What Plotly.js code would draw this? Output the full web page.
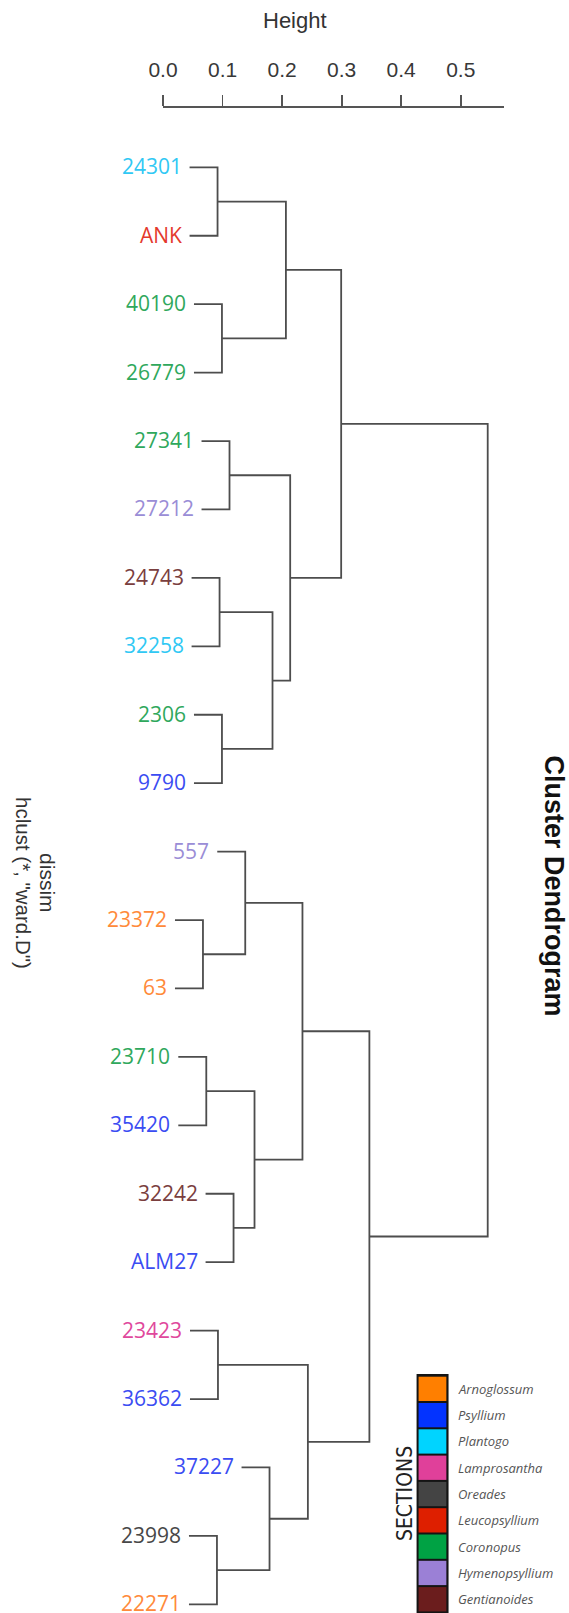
<!DOCTYPE html>
<html>
<head>
<meta charset="utf-8">
<script src="https://cdn.plot.ly/plotly-3.0.1.min.js"></script>
<style>html,body{margin:0;padding:0;background:#fff;}#chart{width:569px;height:1613px;}</style>
</head>
<body>
<div id="chart"></div>
<script>
// ---- Data ----
const leaves = ['24301','ANK','40190','26779','27341','27212','24743','32258','2306','9790',
                '557','23372','63','23710','35420','32242','ALM27','23423','36362','37227','23998','22271'];
const leafSection = ['Plantogo','Leucopsyllium','Coronopus','Coronopus','Coronopus','Hymenopsyllium',
                     'Gentianoides','Plantogo','Coronopus','Psyllium','Hymenopsyllium','Arnoglossum',
                     'Arnoglossum','Coronopus','Psyllium','Gentianoides','Psyllium','Lamprosantha',
                     'Psyllium','Psyllium','Oreades','Arnoglossum'];
// hclust-style merge table (negative = leaf number, positive = earlier merge)
const mergeLeft   = [-12,-14,-21,-1,-18,-7,-3,-9,-5,-16,-11, 2,-20, 6, 4, 9,11, 5,15,17,19];
const mergeRight  = [-13,-15,-22,-2,-19,-8,-4,-10,-6,-17, 1,10,  3, 8, 7,14,12,13,16,18,20];
const mergeHeight = [0.0671,0.0727,0.0906,0.0916,0.0923,0.0950,0.0990,0.0990,0.1117,0.1185,
                     0.1381,0.1537,0.1789,0.1839,0.2064,0.2136,0.2342,0.2433,0.2992,0.3466,0.5453];
const hang = 0.047;
const tickValues = [0, 0.1, 0.2, 0.3, 0.4, 0.5];
const tickLabels = ['0.0','0.1','0.2','0.3','0.4','0.5'];
const sectionNames = ['Arnoglossum','Psyllium','Plantogo','Lamprosantha','Oreades','Leucopsyllium',
                      'Coronopus','Hymenopsyllium','Gentianoides'];

// ---- Styles ----
const swatchColor = {Arnoglossum:'#ff7f00', Psyllium:'#0333ff', Plantogo:'#00d4ff', Lamprosantha:'#e0409a',
  Oreades:'#444444', Leucopsyllium:'#de1f00', Coronopus:'#00a244', Hymenopsyllium:'#9b80d6', Gentianoides:'#6b1d1d'};
const labelColor = {Arnoglossum:'#ff8a3a', Psyllium:'#3a4cf2', Plantogo:'#30c8f4', Lamprosantha:'#e0489c',
  Oreades:'#474747', Leucopsyllium:'#e4392c', Coronopus:'#2fa85c', Hymenopsyllium:'#9a8dd6', Gentianoides:'#7a3e3e'};

const W = 569, H = 1613;
const M = {l: 162.7, r: 65, t: 108, b: 0};
const PW = W - M.l - M.r, PH = H - M.t - M.b;
const px2x = px => (px - M.l) / PW;
const py2y = py => 1 - (py - M.t) / PH;

// ---- Build dendrogram segments ----
const mergeY = [];
const leafX = new Array(leaves.length);
const segX = [], segY = [];
for (let k = 0; k < mergeHeight.length; k++) {
  const h = mergeHeight[k];
  const info = c => {
    if (c < 0) { const i = -c - 1; leafX[i] = h - hang; return {x: h - hang, y: i}; }
    return {x: mergeHeight[c - 1], y: mergeY[c - 1]};
  };
  const L = info(mergeLeft[k]), R = info(mergeRight[k]);
  mergeY[k] = (L.y + R.y) / 2;
  segX.push(L.x, h, h, R.x, null);
  segY.push(L.y, L.y, R.y, R.y, null);
}

const traces = [{
  type: 'scatter', mode: 'lines', x: segX, y: segY,
  line: {color: '#4d4d4d', width: 1.8}, hoverinfo: 'skip', showlegend: false, cliponaxis: false
}];

const annotations = leaves.map((name, i) => ({
  x: leafX[i], y: i, xref: 'x', yref: 'y', text: name, showarrow: false,
  xanchor: 'right', yanchor: 'middle', xshift: -6, yshift: 1,
  font: {family: 'Open Sans, sans-serif', size: 21, color: labelColor[leafSection[i]]}
}));

const sansFont = 'Liberation Sans, Arial, sans-serif';
annotations.push(
  {x: px2x(295), y: py2y(20), xref: 'paper', yref: 'paper', text: 'Height', showarrow: false,
   xanchor: 'center', yanchor: 'middle', font: {family: sansFont, size: 22, color: '#333'}},
  {x: px2x(47.5), y: py2y(851), xref: 'paper', yref: 'paper', text: 'dissim', showarrow: false, textangle: 90,
   xanchor: 'center', yanchor: 'top', font: {family: sansFont, size: 21, color: '#333'}},
  {x: px2x(22.5), y: py2y(795), xref: 'paper', yref: 'paper', text: 'hclust (*, "ward.D")', showarrow: false, textangle: 90,
   xanchor: 'center', yanchor: 'top', font: {family: sansFont, size: 20.5, color: '#333'}},
  {x: px2x(555), y: py2y(754), xref: 'paper', yref: 'paper', text: '<b>Cluster Dendrogram</b>', showarrow: false, textangle: 90,
   xanchor: 'center', yanchor: 'top', font: {family: sansFont, size: 27, color: '#111'}},
  {x: px2x(405), y: py2y(1494), xref: 'paper', yref: 'paper', text: 'SECTIONS', showarrow: false, textangle: -90,
   xanchor: 'center', yanchor: 'middle', font: {family: 'Liberation Sans Narrow, DejaVu Sans Condensed, sans-serif', size: 21, color: '#222'}}
);

// ---- Section legend (colour key) ----
const shapes = [{
  type: 'rect', xref: 'paper', yref: 'paper', x0: px2x(416.5), x1: px2x(448.5), y0: py2y(1374), y1: py2y(1625),
  fillcolor: '#141414', line: {width: 0}, layer: 'above'
}];
const keyTop = 1376.7, keyStep = 26.3, keyH = 24.3;
sectionNames.forEach((s, i) => {
  const top = keyTop + i * keyStep;
  shapes.push({type: 'rect', xref: 'paper', yref: 'paper', x0: px2x(418.5), x1: px2x(446.3),
    y0: py2y(top), y1: py2y(top + keyH), fillcolor: swatchColor[s], line: {width: 0}, layer: 'above'});
  annotations.push({x: px2x(456), y: py2y(top + keyH / 2), xref: 'paper', yref: 'paper',
    text: '<i>' + s + '</i>', showarrow: false, xanchor: 'left', yanchor: 'middle',
    font: {family: 'Open Sans, sans-serif', size: 13, color: '#555'}});
});

const layout = {
  width: W, height: H, margin: M, paper_bgcolor: '#fff', plot_bgcolor: '#fff', showlegend: false,
  xaxis: {
    side: 'top', range: [0, PW / 596], tickvals: tickValues, ticktext: tickLabels,
    showline: true, linecolor: '#555', linewidth: 1.8, mirror: false,
    ticks: 'outside', ticklen: 11, tickwidth: 1.8, tickcolor: '#555',
    showgrid: false, zeroline: false, ticklabelstandoff: 10,
    tickfont: {family: sansFont, size: 21, color: '#383838'}, fixedrange: true
  },
  yaxis: {range: [21.127, -0.867], visible: false, showgrid: false, zeroline: false, fixedrange: true},
  annotations: annotations, shapes: shapes
};

Plotly.newPlot('chart', traces, layout, {staticPlot: true, displayModeBar: false});
</script>
</body>
</html>
